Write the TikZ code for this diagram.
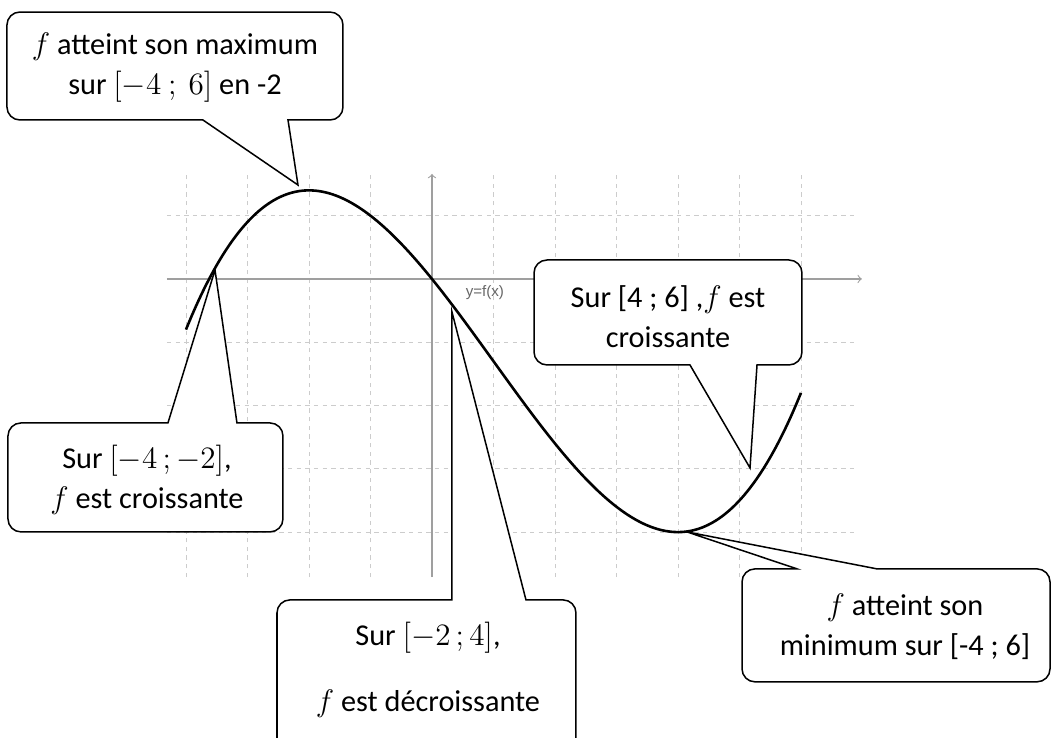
\documentclass[tikz,border=0pt]{standalone}
\usepackage{fontspec}
\setmainfont{Carlito}
\setsansfont{Liberation Sans}
\begin{document}
\begin{tikzpicture}[x=1cm, y=1.029cm,
    grille/.style={gray!40, dash pattern=on 2pt off 2pt, line width=0.4pt},
    axe/.style={gray!75, line width=0.5pt, ->},
    courbe/.style={black, line width=1.2pt},
    bulle/.style={draw, fill=white, line width=0.7pt},
    texte/.style={font=\fontsize{14}{18.5}\selectfont, align=center}]
                \useasboundingbox (-7.024,-7.251) rectangle (10.179,4.408);
                
                % grille
                \foreach \x in {-4,...,6} { \draw[grille] (\x,-4.71) -- (\x,1.65); }
                \foreach \y in {1,-1,-2,-3,-4} { \draw[grille] (-4.31,\y) -- (6.93,\y); }
                
                % axes
                \draw[axe] (-4.31,0) -- (6.99,0);
                \draw[axe] (0,-4.71) -- (0,1.66);
                \node[font=\sffamily\fontsize{7}{8}\selectfont, gray!80!black] (nomf) at (0.86,-0.22) {y=f(x)};
                
                % courbe de f
                \draw[courbe] plot[domain=-4:6, samples=120, smooth] (\x, {0.05*\x*\x*\x - 0.15*\x*\x - 1.2*\x});
                
                % bulles
                \draw[bulle] (-2.179,1.485) -- (-2.341,2.512) [rounded corners=6pt] -- (-1.447,2.512) -- (-1.447,4.218)
                    -- (-6.911,4.218) -- (-6.911,2.512) [sharp corners] -- (-3.724,2.512) -- cycle;
                \draw[bulle] (-3.528,0.142) -- (-3.171,-2.275) [rounded corners=6pt] -- (-2.423,-2.275) -- (-2.423,-3.997)
                    -- (-6.894,-3.997) -- (-6.894,-2.275) [sharp corners] -- (-4.293,-2.275) -- cycle;
                \draw[bulle] (0.325,-0.521) -- (1.528,-5.071) [rounded corners=6pt] -- (2.341,-5.071) -- (2.341,-7.8)
                    -- (-2.520,-7.8) -- (-2.520,-5.071) [sharp corners] -- (0.325,-5.071) -- cycle;
                \draw[bulle] (5.171,-2.986) -- (5.285,-1.359) [rounded corners=6pt] -- (6.016,-1.359) -- (6.016,0.300)
                    -- (1.659,0.300) -- (1.659,-1.359) [sharp corners] -- (4.195,-1.359) -- cycle;
                \draw[bulle] (4.146,-3.997) -- (7.236,-4.581) [rounded corners=6pt] -- (10.049,-4.581) -- (10.049,-6.366)
                    -- (5.041,-6.366) -- (5.041,-4.581) [sharp corners] -- (5.935,-4.581) -- cycle;
                
                % textes
                \node[texte] (maxi) at (-4.179,3.333) {$f$ atteint son maximum\\ sur $[-4\ ;\ 6]$ en -2};
                \node[texte] (croisA) at (-4.634,-3.175) {Sur $[-4\,;-2]$,\\ $f$ est croissante};
                \node[texte] (decrois) at (-0.065,-6.177) {Sur $[-2\,;4]$,\\[12pt] $f$ est décroissante};
                \node[texte] (croisB) at (3.837,-0.600) {Sur [4 ; 6] ,$f$ est\\ croissante};
                \node[texte] (mini) at (7.691,-5.498) {$f$ atteint son\\ minimum sur [-4 ; 6]};
            \end{tikzpicture}
\end{document}
